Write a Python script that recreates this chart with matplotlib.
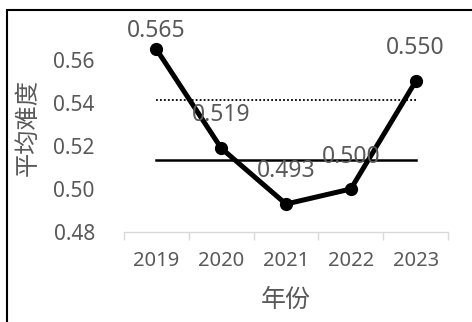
import matplotlib
matplotlib.use("Agg")
import matplotlib.pyplot as plt
from matplotlib.patches import Rectangle

plt.rcParams['font.family'] = ['Noto Sans', 'Noto Sans CJK SC', 'DejaVu Sans']

years = ['2019', '2020', '2021', '2022', '2023']
difficulty = [0.565, 0.519, 0.493, 0.500, 0.550]
value_labels = ['0.565', '0.519', '0.493', '0.500', '0.550']
dotted_level = 0.5415
solid_level = 0.5135
y_ticks = [0.48, 0.50, 0.52, 0.54, 0.56]
y_tick_labels = ['0.48', '0.50', '0.52', '0.54', '0.56']

W, H = 472, 322
fig = plt.figure(figsize=(W / 100, H / 100), dpi=100)
ax = fig.add_axes([124 / W, (H - 232) / H, (448 - 124) / W, (232 - 38.5) / H])

x = list(range(len(years)))
ax.plot(x, difficulty, color='black', lw=3.6, marker='o', ms=8.5, solid_joinstyle='round', zorder=3)
ax.plot([x[0], x[-1]], [dotted_level, dotted_level], color='black', lw=1.3, ls=(0, (1, 1.2)), zorder=2)
ax.plot([x[0], x[-1]], [solid_level, solid_level], color='black', lw=1.8, zorder=2)

offsets = [13, 24, 24, 23, 24]
gray = '#595959'
for xi, yi, lab, off in zip(x, difficulty, value_labels, offsets):
    ax.annotate(lab, (xi, yi), xytext=(0, off), textcoords='offset points',
                ha='center', va='center', fontsize=16.5, color=gray, zorder=4)

ax.set_xlim(-0.5, len(years) - 0.5)
ax.set_ylim(0.48, 0.57)
ax.set_yticks(y_ticks)
ax.set_yticklabels(y_tick_labels)
ax.set_xticks(x)
ax.set_xticklabels(years)
ax.set_xticks([i - 0.5 for i in range(len(years) + 1)], minor=True)
ax.tick_params(axis='x', which='major', length=0, pad=14, labelsize=14.5, labelcolor=gray)
ax.tick_params(axis='x', which='minor', length=6, width=1, color='#d9d9d9', direction='out')
ax.tick_params(axis='y', length=0, pad=21, labelsize=15, labelcolor=gray)
for s in ['top', 'right', 'left']:
    ax.spines[s].set_visible(False)
ax.spines['bottom'].set_color('#d9d9d9')
ax.spines['bottom'].set_linewidth(1)

fig.text(286 / W, (H - 300) / H, '年份', ha='center', va='center', fontsize=18, color=gray)
fig.text(29 / W, (H - 128) / H, '平均难度', ha='center', va='center', fontsize=17.5, color=gray, rotation=90)

fig.patches.append(Rectangle((6.5 / W, -0.05), 1.2, (H - 9.5) / H + 0.05, transform=fig.transFigure,
                             fill=False, edgecolor='black', lw=1.5, zorder=10))

fig.savefig('out.png', dpi=100)
